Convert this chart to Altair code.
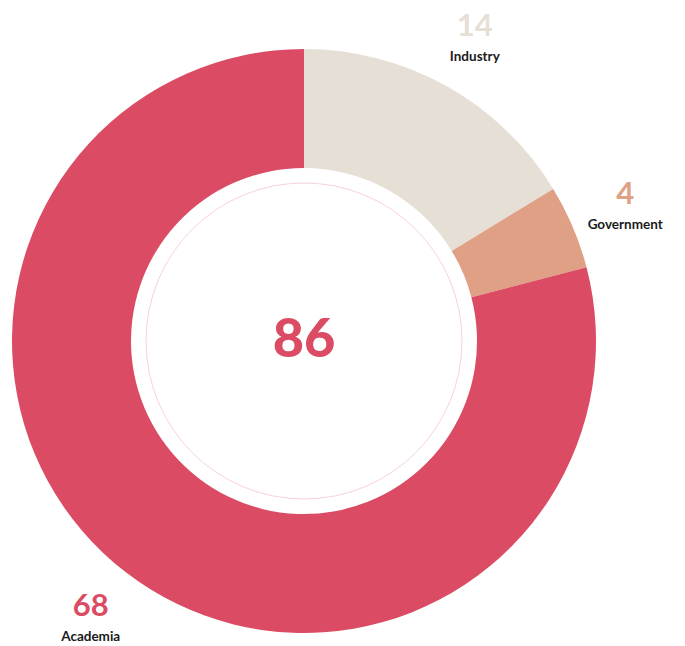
import altair as alt
import pandas as pd

categories = ["Industry", "Government", "Academia"]
values = [14, 4, 68]
colors = ["#E6DFD5", "#E0A086", "#DB4C64"]

df = pd.DataFrame({"category": categories, "value": values, "idx": list(range(len(categories)))})

CX, CY = 296, 333
FONT = "Lato"
LABEL_R = 349

color_scale = alt.Scale(domain=categories, range=colors)

base = alt.Chart(df).encode(
    theta=alt.Theta("value:Q", stack=True),
    order=alt.Order("idx:Q"),
    x=alt.value(CX),
    y=alt.value(CY),
)

arcs = base.mark_arc(outerRadius=292, innerRadius=173, stroke=None).encode(
    color=alt.Color("category:N", scale=color_scale, legend=None)
)

nums = base.mark_text(radius=LABEL_R, dy=-10, font=FONT, fontSize=31, fontWeight=700).encode(
    text=alt.Text("value:Q"),
    color=alt.Color("category:N", scale=color_scale, legend=None),
)

names = base.mark_text(radius=LABEL_R, dy=20, font=FONT, fontSize=13.5, fontWeight=700, color="#1a1a1a").encode(
    text=alt.Text("category:N")
)

ring = alt.Chart(df).transform_aggregate(total="sum(value)").mark_point(
    shape="circle", size=(2 * 158) ** 2, filled=False, stroke="#F6D3DA", strokeWidth=1, opacity=1
).encode(x=alt.value(CX), y=alt.value(CY))

center = alt.Chart(df).transform_aggregate(total="sum(value)").mark_text(
    font=FONT, fontSize=54, fontWeight=900, color="#DB4C64", baseline="middle", align="center"
).encode(x=alt.value(CX), y=alt.value(CY), text=alt.Text("total:Q"))

chart = alt.layer(arcs, ring, center, nums, names).properties(
    width=669, height=636, padding=0, autosize=alt.AutoSizeParams(type="none")
).configure_view(stroke=None)

chart.save("out.html", embed_options={"renderer": "svg", "actions": False})
